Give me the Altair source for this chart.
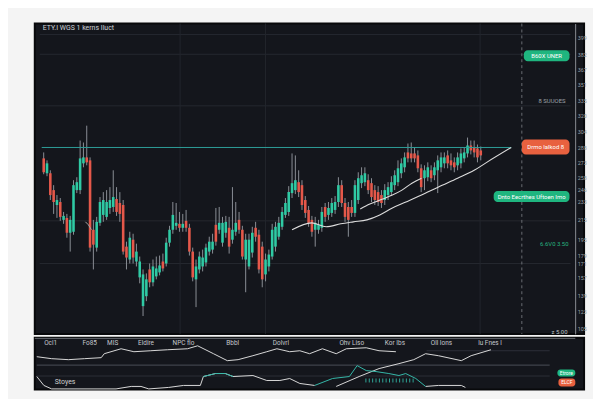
import altair as alt
import pandas as pd

# ---------------- colours / fonts ----------------
PAGE = "#f4f4f4"
PANEL = "#14161c"
UP = "#2fcaa4"
DOWN = "#e5584a"
WICK = "#8b8f96"
WHITE = "#dcdcdc"
TEAL = "#35b7a8"
GREEN = "#1fb57f"
ORANGE = "#e8613f"
RESIST = "#2f9f99"
FONT = "Roboto"

# ---------------- candle data ----------------
opens = [277, 262, 262, 245, 230, 233, 215, 217, 202, 203,
         245, 245, 272, 278, 275, 205, 187, 212, 220, 218,
         227, 228, 236, 232, 230, 188, 175, 195, 173, 157,
         128, 138, 165, 152, 158, 162, 173, 171, 192, 205,
         209, 211, 207, 214, 207, 183, 155, 165, 168, 172,
         183, 185, 210, 205, 192, 202, 207, 195, 203, 215,
         205, 175, 168, 182, 207, 200, 188, 160, 168, 178,
         188, 198, 208, 220, 223, 242, 245, 253, 250, 235,
         225, 215, 205, 205, 207, 228, 220, 222, 225, 233,
         250, 232, 228, 228, 222, 235, 252, 253, 255, 252,
         245, 243, 240, 235, 240, 243, 250, 253, 262, 268,
         283, 282, 282, 280, 267, 257, 258, 265, 260, 265,
         268, 272, 280, 275, 273, 270, 272, 277, 282, 290,
         288, 287, 285]
closes = [263, 272, 240, 233, 235, 218, 219, 202, 215, 250,
          253, 277, 278, 273, 187, 190, 213, 233, 235, 233,
          235, 238, 223, 221, 183, 177, 197, 177, 183, 173,
          160, 155, 152, 168, 166, 169, 166, 192, 205, 220,
          212, 207, 211, 207, 183, 157, 168, 178, 177, 187,
          193, 193, 193, 212, 212, 213, 188, 205, 212, 205,
          178, 195, 195, 202, 198, 165, 155, 175, 180, 205,
          208, 212, 223, 232, 243, 252, 255, 243, 230, 222,
          212, 203, 212, 210, 223, 218, 227, 232, 233, 250,
          232, 218, 215, 222, 250, 257, 260, 262, 245, 238,
          235, 233, 232, 245, 248, 253, 260, 267, 272, 278,
          277, 277, 277, 267, 248, 265, 268, 257, 268, 275,
          278, 278, 272, 270, 268, 278, 282, 283, 290, 285,
          283, 278, 280]
highs = [283, 275, 265, 250, 240, 237, 223, 221, 219, 255,
         258, 295, 293, 310, 278, 215, 218, 238, 243, 245,
         248, 265, 248, 243, 235, 193, 203, 201, 191, 178,
         165, 161, 171, 175, 178, 179, 181, 197, 209, 233,
         232, 223, 221, 225, 211, 187, 175, 183, 185, 191,
         198, 201, 227, 228, 218, 219, 218, 248, 233, 223,
         209, 201, 201, 208, 213, 205, 193, 181, 185, 211,
         213, 218, 228, 237, 249, 282, 280, 265, 255, 239,
         229, 219, 218, 215, 228, 232, 233, 237, 239, 258,
         255, 237, 233, 235, 255, 263, 268, 268, 261, 257,
         250, 249, 245, 251, 253, 259, 265, 275, 277, 283,
         292, 293, 288, 285, 271, 270, 273, 270, 273, 280,
         283, 283, 285, 282, 278, 283, 287, 288, 298, 295,
         295, 291, 289]
lows = [261, 259, 235, 221, 217, 214, 211, 197, 183, 200,
        242, 241, 268, 270, 183, 165, 183, 209, 213, 215,
        221, 223, 219, 213, 180, 165, 171, 171, 168, 151,
        118, 133, 147, 148, 155, 159, 163, 168, 188, 201,
        205, 203, 203, 203, 179, 153, 127, 161, 163, 168,
        179, 181, 189, 201, 188, 197, 181, 191, 199, 201,
        175, 142, 165, 177, 193, 161, 147, 153, 163, 175,
        183, 195, 205, 217, 219, 237, 241, 238, 225, 217,
        208, 198, 188, 201, 203, 213, 215, 218, 221, 228,
        228, 213, 198, 218, 218, 231, 247, 249, 241, 233,
        230, 229, 227, 230, 235, 239, 245, 249, 257, 263,
        273, 273, 273, 263, 243, 245, 254, 253, 255, 242,
        263, 267, 267, 265, 263, 265, 267, 273, 278, 281,
        278, 273, 275]

# moving average / trend lines (bar index, price)
ma_long_i = [75.0, 80.9, 85.3, 89.7, 93.5, 97.6, 101.5, 105.3, 109.4, 114.1, 119.1, 125.0, 130.0, 133.8, 141.2]
ma_long_p = [205, 212, 208, 211, 213, 215, 220, 227, 233, 240, 248, 257, 265, 273, 288]
ma_short_i = [95.6, 98.5, 102.4, 105.3, 108.2, 111.2, 114.1]
ma_short_p = [226, 231, 236, 240, 245, 252, 257]
frag_i = [12.6, 13.5, 14.4]
frag_p = [213, 210, 205]

resistance_price = 288
resistance_span = [-0.6, 141.2]

# axis / grid
price_ticks = [399, 382, 367, 351, 335, 320, 304, 288, 273, 258, 246, 233,
               215, 195, 179, 171, 157, 139, 123, 105]
hgrid_prices = [402, 382, 330, 214, 171]
vgrid_idx = [41.2, 67.0, 131.8]
dashed_idx = [144.4]

# tags on the right
tag_x0 = [145.0, 144.4, 135.9]
tag_x1 = [158.8, 158.8, 158.8]
tag_p0 = [386, 296, 244]
tag_p1 = [375, 281, 233]
tag_fill = [GREEN, ORANGE, GREEN]
tag_text = ["B60X UNER", "Drmo Ialkod 8", "Dnto Eecrthes Uftoen Imo"]

note_text = ["8 SUUOES", "6.6V0 3.50", "z 5.00"]
note_i = [157.6, 158.5, 158.2]
note_p = [335, 191, 102]
note_col = ["#9ea3a8", "#27b47f", "#bfc3c7"]

title_text = "ETY.I WGS 1 kerns Iluct"

# ---------------- lower indicator panel ----------------
date_labels = ["Ocl1", "Fo85", "MIS", "Eldire", "NPC flo", "Bbbl", "Dolvrl",
               "Ohv Liso", "Kor Ibs", "Oll Ions", "lu Fnes l"]
date_idx = [3.5, 15.1, 21.9, 31.8, 42.9, 57.5, 71.8, 92.8, 105.6, 119.4, 133.8]

osc_a_i = [-0.6, 3.8, 8.8, 13.5, 18.5, 19.4, 24.4, 28.2, 33.2, 38.2, 44.1, 47.1, 51.8, 55.9,
           59.1, 63.5, 67.6, 70.6, 74.4, 77.4, 80.3, 84.1, 88.2, 91.2, 97.1, 100.9, 105.9]
osc_a_v = [33, 31, 30, 31, 32, 36, 41, 38, 39, 40, 41, 44, 36, 29,
           30, 34, 38, 41, 38, 39, 36, 41, 36, 41, 42, 39, 38]
osc_b_i = [88.2, 95.0, 100.9, 106.8, 111.2, 114.7, 118.5, 125.3, 128.2, 134.1]
osc_b_v = [3, 13, 21, 26, 30, 36, 34, 29, 34, 40]
osc_c_i = [-0.6, 1.5, 3.8, 22.9, 27.4, 30.3, 32.6, 38.5, 42.9, 47.9, 48.8, 52.4, 55.3,
           57.6, 63.5, 67.6, 71.5, 74.4, 77.4, 81.8]
osc_c_v = [13, 4, 0.5, 0.5, 3, 3, 0.5, 2, 4, 4, 13, 16, 16, 13, 14, 9, 9, 11, 6, 4]
osc_e_i = [114.7, 118.5, 125.3, 126.5]
osc_e_v = [3, 4, 4, 2]
sig_a_i = [48.8, 52.4, 55.3, 57.6]
sig_a_v = [13, 16, 16, 13]
sig_d_i = [81.8, 87.1, 92.1, 94.4, 97.1, 100.0, 103.8, 106.8, 108.8, 111.8, 114.7]
sig_d_v = [4, 11, 13, 24, 19, 18, 16, 14, 16, 11, 3]
hist_i = [97, 98, 99, 100, 101, 102, 103, 104, 105, 106, 107, 108, 109, 110, 111]
hist_lo = 7
hist_hi = 11

low_rules_v = [51.5, 24.5, 13.5, 39]
low_rules_x0 = [-1.2, -0.6, -0.6, 115]
low_rules_x1 = [159.1, 151.5, 151.5, 151.5]
low_rules_col = ["#6b6e74", "#4b4e56", "#2d3038", "#2d3038"]

badge_x0 = [153.8, 154.1]
badge_x1 = [159.1, 159.1]
badge_v0 = [20, 11]
badge_v1 = [13, 3]
badge_fill = [GREEN, ORANGE]
badge_text = ["Etrore", "ELCF"]

stoch_label = "Stoyes"

# ---------------- scales ----------------
XD = [-1.2, 161.7]
xs = alt.Scale(domain=XD, nice=False, zero=False)
ys = alt.Scale(domain=[100, 413], nice=False, zero=False)
yl = alt.Scale(domain=[0, 52], nice=False, zero=False)
yaxis = alt.Axis(orient="right", offset=-9, values=price_ticks, title=None, grid=False,
                 ticks=False, labelFontSize=5.5, labelColor="#9aa0a6", labelFont=FONT,
                 labelPadding=2, labelOverlap=False, labelFlush=False,
                 domainColor="#8a8d93", domainWidth=1)


def X(f):
    return alt.X(f, type="quantitative", scale=xs, axis=None)


def Y(f):
    return alt.Y(f, type="quantitative", scale=ys, axis=yaxis)


def YL(f):
    return alt.Y(f, type="quantitative", scale=yl, axis=None)


# ---------------- main panel ----------------
cdf = pd.DataFrame({"i": list(range(len(opens))), "open": opens, "close": closes,
                    "high": highs, "low": lows})

hgrid = alt.Chart(pd.DataFrame({"p": hgrid_prices, "x0": XD[0], "x1": 159.1})).mark_rule(
    color="#252830", strokeWidth=1).encode(x=X("x0"), x2="x1", y=Y("p"))
vgrid = alt.Chart(pd.DataFrame({"i": vgrid_idx})).mark_rule(
    color="#22252d", strokeWidth=1).encode(x=X("i"))
dashed = alt.Chart(pd.DataFrame({"i": dashed_idx})).mark_rule(
    color="#6a6d73", strokeWidth=1, strokeDash=[3, 3]).encode(x=X("i"))
resist = alt.Chart(pd.DataFrame({"p": [resistance_price], "x0": [resistance_span[0]],
                                 "x1": [resistance_span[1]]})).mark_rule(
    color=RESIST, strokeWidth=1).encode(x=X("x0"), x2="x1", y=Y("p"))

wicks = alt.Chart(cdf).mark_rule(color=WICK, strokeWidth=1).encode(
    x=X("i"), y=Y("low"), y2="high")
bodies = alt.Chart(cdf).mark_bar(size=2.6).encode(
    x=X("i"), y=Y("open"), y2="close",
    color=alt.condition("datum.close >= datum.open", alt.value(UP), alt.value(DOWN)))

ma_df = pd.DataFrame({"i": ma_long_i + ma_short_i, "p": ma_long_p + ma_short_p,
                      "s": ["long"] * len(ma_long_i) + ["short"] * len(ma_short_i)})
ma = alt.Chart(ma_df).mark_line(color=WHITE, strokeWidth=1.1, interpolate="monotone").encode(
    x=X("i"), y=Y("p"), detail="s:N")
frag = alt.Chart(pd.DataFrame({"i": frag_i, "p": frag_p})).mark_line(
    color="#a8a8a8", strokeWidth=1).encode(x=X("i"), y=Y("p"))

tag_df = pd.DataFrame({"x0": tag_x0, "x1": tag_x1, "p0": tag_p0, "p1": tag_p1,
                       "fill": tag_fill, "label": tag_text})
tag_df["xm"] = (tag_df.x0 + tag_df.x1) / 2
tag_df["pm"] = (tag_df.p0 + tag_df.p1) / 2
tags = alt.Chart(tag_df).mark_rect(cornerRadius=4).encode(
    x=X("x0"), x2="x1", y=Y("p0"), y2="p1", color=alt.Color("fill:N", scale=None))
tag_txt = alt.Chart(tag_df).mark_text(color="white", fontSize=6, font=FONT).encode(
    x=X("xm"), y=Y("pm"), text="label:N")

notes = alt.Chart(pd.DataFrame({"i": note_i, "p": note_p, "t": note_text, "c": note_col})).mark_text(
    align="right", fontSize=6, font=FONT).encode(
    x=X("i"), y=Y("p"), text="t:N", color=alt.Color("c:N", scale=None))

title = alt.Chart(pd.DataFrame({"i": [-0.3], "p": [408], "t": [title_text]})).mark_text(
    align="left", fontSize=7, font=FONT, color="#cfd2d6").encode(x=X("i"), y=Y("p"), text="t:N")

main = alt.layer(hgrid, vgrid, dashed, wicks, bodies, resist, ma, frag, tags, tag_txt,
                 notes, title).properties(width=554, height=313)

# ---------------- lower panel ----------------
lr = alt.Chart(pd.DataFrame({"v": low_rules_v, "x0": low_rules_x0, "x1": low_rules_x1,
                             "c": low_rules_col})).mark_rule(strokeWidth=1).encode(
    x=X("x0"), x2="x1", y=YL("v"), color=alt.Color("c:N", scale=None))

white_df = pd.DataFrame({
    "i": osc_a_i + osc_b_i + osc_c_i + osc_e_i,
    "v": osc_a_v + osc_b_v + osc_c_v + osc_e_v,
    "s": ["a"] * len(osc_a_i) + ["b"] * len(osc_b_i) + ["c"] * len(osc_c_i) + ["e"] * len(osc_e_i)})
teal_df = pd.DataFrame({"i": sig_a_i + sig_d_i, "v": sig_a_v + sig_d_v,
                        "s": ["a"] * len(sig_a_i) + ["d"] * len(sig_d_i)})
wl = alt.Chart(white_df).mark_line(color="#d9d9d9", strokeWidth=1).encode(
    x=X("i"), y=YL("v"), detail="s:N")
tl = alt.Chart(teal_df).mark_line(color=TEAL, strokeWidth=1).encode(
    x=X("i"), y=YL("v"), detail="s:N")
hist = alt.Chart(pd.DataFrame({"i": hist_i, "lo": hist_lo, "hi": hist_hi})).mark_rule(
    color="#2fa596", strokeWidth=1).encode(x=X("i"), y=YL("lo"), y2="hi")

dates = alt.Chart(pd.DataFrame({"i": date_idx, "t": date_labels, "v": 47})).mark_text(
    fontSize=6.5, font=FONT, color="#c4c7cc").encode(x=X("i"), y=YL("v"), text="t:N")
stoch = alt.Chart(pd.DataFrame({"i": [4.7], "v": [7], "t": [stoch_label]})).mark_text(
    align="left", fontSize=7, font=FONT, color="#d0d0d0").encode(x=X("i"), y=YL("v"), text="t:N")

bdf = pd.DataFrame({"x0": badge_x0, "x1": badge_x1, "v0": badge_v0, "v1": badge_v1,
                    "fill": badge_fill, "t": badge_text})
bdf["xm"] = (bdf.x0 + bdf.x1) / 2
bdf["vm"] = (bdf.v0 + bdf.v1) / 2
badges = alt.Chart(bdf).mark_rect(cornerRadius=3).encode(
    x=X("x0"), x2="x1", y=YL("v0"), y2="v1", color=alt.Color("fill:N", scale=None))
badge_txt = alt.Chart(bdf).mark_text(fontSize=5, font=FONT, color="white").encode(
    x=X("xm"), y=YL("vm"), text="t:N")

lower = alt.layer(lr, hist, wl, tl, dates, stoch, badges, badge_txt).properties(width=554, height=52)

chart = alt.vconcat(main, lower, spacing=0).resolve_scale(
    x="independent", y="independent").properties(
    background=PAGE, padding={"left": 25, "top": 12, "right": 5, "bottom": 5}
).configure_view(fill=PANEL, stroke="#08090b", strokeWidth=2)

chart.save("out.html", embed_options={"renderer": "svg", "actions": False})
